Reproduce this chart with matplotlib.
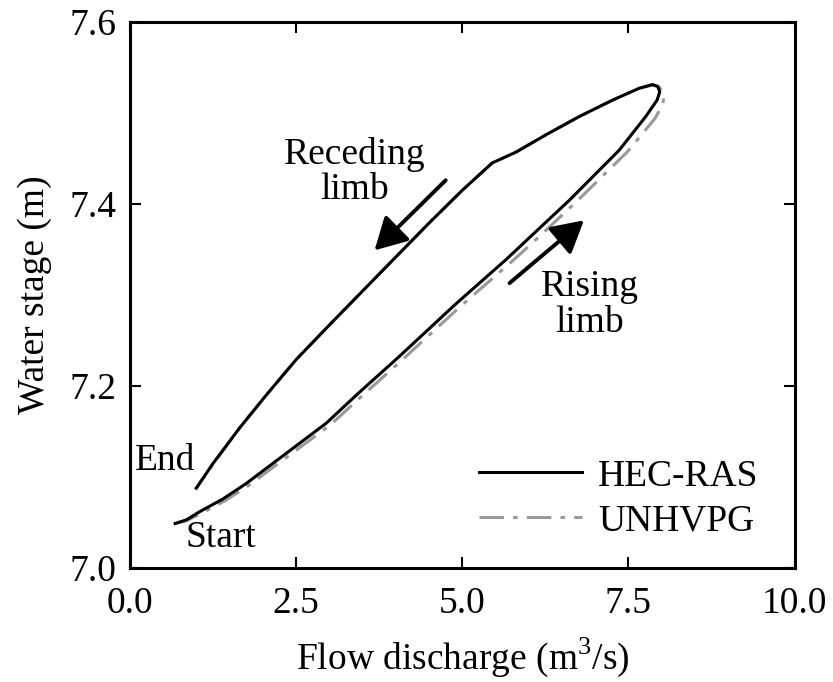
import matplotlib
matplotlib.use("Agg")
import matplotlib.pyplot as plt

plt.rcParams['font.family'] = ['Liberation Serif', 'DejaVu Serif']
plt.rcParams['mathtext.fontset'] = 'custom'
plt.rcParams['mathtext.rm'] = 'Liberation Serif'

# HEC-RAS: rising limb then receding limb (one loop)
hec_q = [0.68, 0.85, 1.05, 1.40, 1.75, 2.35, 2.95, 3.45, 4.03, 4.90, 5.66, 6.01, 6.61,
         7.36, 7.76, 7.93, 7.97, 7.94, 7.86, 7.66, 7.26, 6.76, 6.26, 5.81, 5.45, 5.00,
         4.50, 3.95, 3.00, 2.50, 2.05, 1.65, 1.25, 1.00]
hec_h = [7.049, 7.053, 7.062, 7.076, 7.093, 7.126, 7.159, 7.193, 7.231, 7.290, 7.339, 7.363, 7.404,
         7.459, 7.496, 7.514, 7.523, 7.529, 7.531, 7.527, 7.514, 7.496, 7.476, 7.457, 7.445, 7.415,
         7.379, 7.338, 7.267, 7.229, 7.190, 7.154, 7.115, 7.088]

# UNHVPG
unh_q = [0.68, 0.85, 1.07, 1.43, 1.79, 2.40, 3.01, 3.52, 4.10, 4.98, 5.75, 6.11, 6.71,
         7.48, 7.90, 8.02, 8.03, 7.97, 7.87, 7.66, 7.26, 6.76, 6.26, 5.81, 5.45, 5.00,
         4.50, 3.95, 3.00, 2.50, 2.05, 1.65, 1.24, 0.98]
unh_h = [7.049, 7.052, 7.060, 7.074, 7.091, 7.124, 7.157, 7.191, 7.229, 7.288, 7.337, 7.361, 7.402,
         7.457, 7.494, 7.510, 7.520, 7.528, 7.531, 7.527, 7.514, 7.496, 7.476, 7.457, 7.445, 7.415,
         7.379, 7.338, 7.267, 7.229, 7.190, 7.154, 7.113, 7.086]

xticks = [0.0, 2.5, 5.0, 7.5, 10.0]
yticks = [7.0, 7.2, 7.4, 7.6]

fig = plt.figure(figsize=(8.33, 6.82), dpi=100)
ax = fig.add_axes([0.156, 0.167, 0.798, 0.801])

ax.plot(hec_q, hec_h, color='black', lw=2.2, label='HEC-RAS', zorder=3)
ax.plot(unh_q, unh_h, color='#999999', lw=2.2, ls=(0, (8, 3, 1.5, 3)), label='UNHVPG', zorder=2)

ax.set_xlim(0, 10)
ax.set_ylim(7.0, 7.6)
ax.set_xticks(xticks)
ax.set_yticks(yticks)
ax.set_xticklabels([f'{v:.1f}' for v in xticks])
ax.set_yticklabels([f'{v:.1f}' for v in yticks])
ax.tick_params(direction='in', length=8, width=1.5, labelsize=27, top=True, right=True)
ax.tick_params(axis='x', pad=13)
ax.tick_params(axis='y', pad=10)
for s in ax.spines.values():
    s.set_linewidth(2.2)

ax.set_xlabel('Flow discharge (m$^3$/s)', fontsize=27, labelpad=11)
ax.set_ylabel('Water stage (m)', fontsize=27, labelpad=12)

ap = dict(arrowstyle='-|>,head_length=0.65,head_width=0.36', lw=2.8, color='black',
          mutation_scale=30, shrinkA=0, shrinkB=0)
ax.annotate('', xy=(3.68, 7.349), xytext=(4.75, 7.426), arrowprops=ap)
ax.annotate('', xy=(6.83, 7.382), xytext=(5.71, 7.313), arrowprops=ap)

ax.text(3.38, 7.435, 'Receding\nlimb', fontsize=27, ha='center', va='center', linespacing=1.05)
ax.text(6.92, 7.289, 'Rising\nlimb', fontsize=27, ha='center', va='center', linespacing=1.05)
ax.text(0.08, 7.118, 'End', fontsize=27, ha='left', va='center')
ax.text(0.83, 7.033, 'Start', fontsize=27, ha='left', va='center')

ax.legend(loc='lower right', frameon=False, fontsize=27, handlelength=2.75,
          handletextpad=0.42, borderaxespad=0.3, labelspacing=0.28,
          bbox_to_anchor=(0.985, 0.006))

fig.savefig('out.png', dpi=100)
